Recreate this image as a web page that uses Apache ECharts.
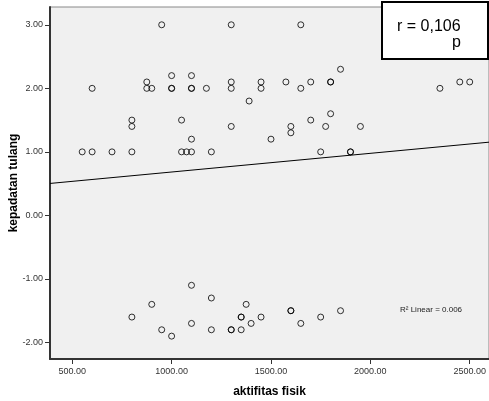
<!DOCTYPE html>
<html>
<head>
<meta charset="utf-8">
<script src="https://cdn.jsdelivr.net/npm/echarts@6/dist/echarts.min.js"></script>
<style>html,body{margin:0;padding:0;background:#fff;}#c{width:489px;height:401px;}</style>
</head>
<body>
<div id="c"></div>
<script>
// Data (aktifitas fisik vs kepadatan tulang)
var activity = [950,1300,1650, 600, 875,875,900, 1000,1000,1000, 1100,1100,1100, 1175, 1300,1300, 1390, 1450,1450, 1575, 1650, 1700, 1800,1800, 1850, 2350, 2450,2500,
  800,800,800, 1050, 1100, 1050,1075,1100, 1200, 550,600,700, 1300, 1500, 1600,1600, 1700, 1800, 1775, 1950, 1750, 1900,1900,
  800, 900, 950, 1000, 1100, 1100, 1200, 1200, 1300,1300, 1350,1350, 1350, 1375, 1400, 1450, 1600,1600, 1650, 1750, 1850];
var density = [3.0,3.0,3.0, 2.0, 2.1,2.0,2.0, 2.2,2.0,2.0, 2.2,2.0,2.0, 2.0, 2.1,2.0, 1.8, 2.1,2.0, 2.1, 2.0, 2.1, 2.1,2.1, 2.3, 2.0, 2.1,2.1,
  1.5,1.4,1.0, 1.5, 1.2, 1.0,1.0,1.0, 1.0, 1.0,1.0,1.0, 1.4, 1.2, 1.4,1.3, 1.5, 1.6, 1.4, 1.4, 1.0, 1.0,1.0,
  -1.6, -1.4, -1.8, -1.9, -1.1, -1.7, -1.3, -1.8, -1.8,-1.8, -1.6,-1.6, -1.8, -1.4, -1.7, -1.6, -1.5,-1.5, -1.7, -1.6, -1.5];
var xTicks = [500, 1000, 1500, 2000, 2500];
var yTicks = [-2, -1, 0, 1, 2, 3];
var xRange = [388, 2597];
var yRange = [-2.26, 3.28];
var fitIntercept = 0.389;
var fitSlope = 0.000294;
var rText = 'r = 0,106';
var pText = 'p';
var r2Text = 'R\u00b2 Linear = 0.006';

var pts = activity.map(function (a, i) { return [a, density[i]]; });
var fitLine = xRange.map(function (x) { return [x, fitIntercept + fitSlope * x]; });

var FONT = 'Liberation Sans, Arial, sans-serif';
var chart = echarts.init(document.getElementById('c'), null, {renderer: 'canvas'});
chart.setOption({
  animation: false,
  backgroundColor: '#ffffff',
  grid: {left: 50, top: 7, right: 0, bottom: 42, outerBoundsMode: 'none', containLabel: false,
    show: true, backgroundColor: '#f0f0f0', borderColor: '#888888', borderWidth: 1},
  xAxis: {
    type: 'value', min: xRange[0], max: xRange[1],
    name: 'aktifitas fisik', nameLocation: 'middle', nameGap: 27, nameMoveOverlap: false,
    nameTextStyle: {fontFamily: FONT, fontSize: 12, fontWeight: 'bold', color: '#000'},
    axisLine: {show: true, onZero: false, lineStyle: {color: '#333', width: 2}},
    axisTick: {show: true, length: 5, customValues: xTicks, lineStyle: {color: '#333'}},
    axisLabel: {customValues: xTicks, margin: 8, fontFamily: FONT, fontSize: 9, color: '#333',
      formatter: function (v) { return v.toFixed(2); }},
    splitLine: {show: false}
  },
  yAxis: {
    type: 'value', min: yRange[0], max: yRange[1],
    name: 'kepadatan tulang', nameLocation: 'middle', nameGap: 30, nameRotate: 90, nameMoveOverlap: false,
    nameTextStyle: {fontFamily: FONT, fontSize: 12, fontWeight: 'bold', color: '#000'},
    axisLine: {show: true, onZero: false, lineStyle: {color: '#333', width: 2}},
    axisTick: {show: true, length: 5, customValues: yTicks, lineStyle: {color: '#333'}},
    axisLabel: {customValues: yTicks, margin: 7, fontFamily: FONT, fontSize: 9, color: '#333',
      formatter: function (v) { return v.toFixed(2); }},
    splitLine: {show: false}
  },
  series: [
    {type: 'line', data: fitLine, symbol: 'none', lineStyle: {color: '#000', width: 1}, silent: true, z: 2},
    {type: 'scatter', data: pts, symbol: 'circle', symbolSize: 6,
      itemStyle: {color: 'rgba(0,0,0,0)', borderColor: '#000', borderWidth: 1}, z: 3}
  ],
  graphic: [
    {type: 'rect', left: 381, top: 1, z: 10, shape: {width: 106, height: 57},
      style: {fill: '#fff', stroke: '#000', lineWidth: 2}},
    {type: 'text', left: 397, top: 19, z: 11, style: {text: rText, font: '16px ' + FONT, fill: '#000'}},
    {type: 'text', left: 452, top: 35, z: 11, style: {text: pText, font: '16px ' + FONT, fill: '#000'}},
    {type: 'text', left: 400, top: 306, z: 11, style: {text: r2Text, font: '8px ' + FONT, fill: '#222'}}
  ]
});
</script>
</body>
</html>
